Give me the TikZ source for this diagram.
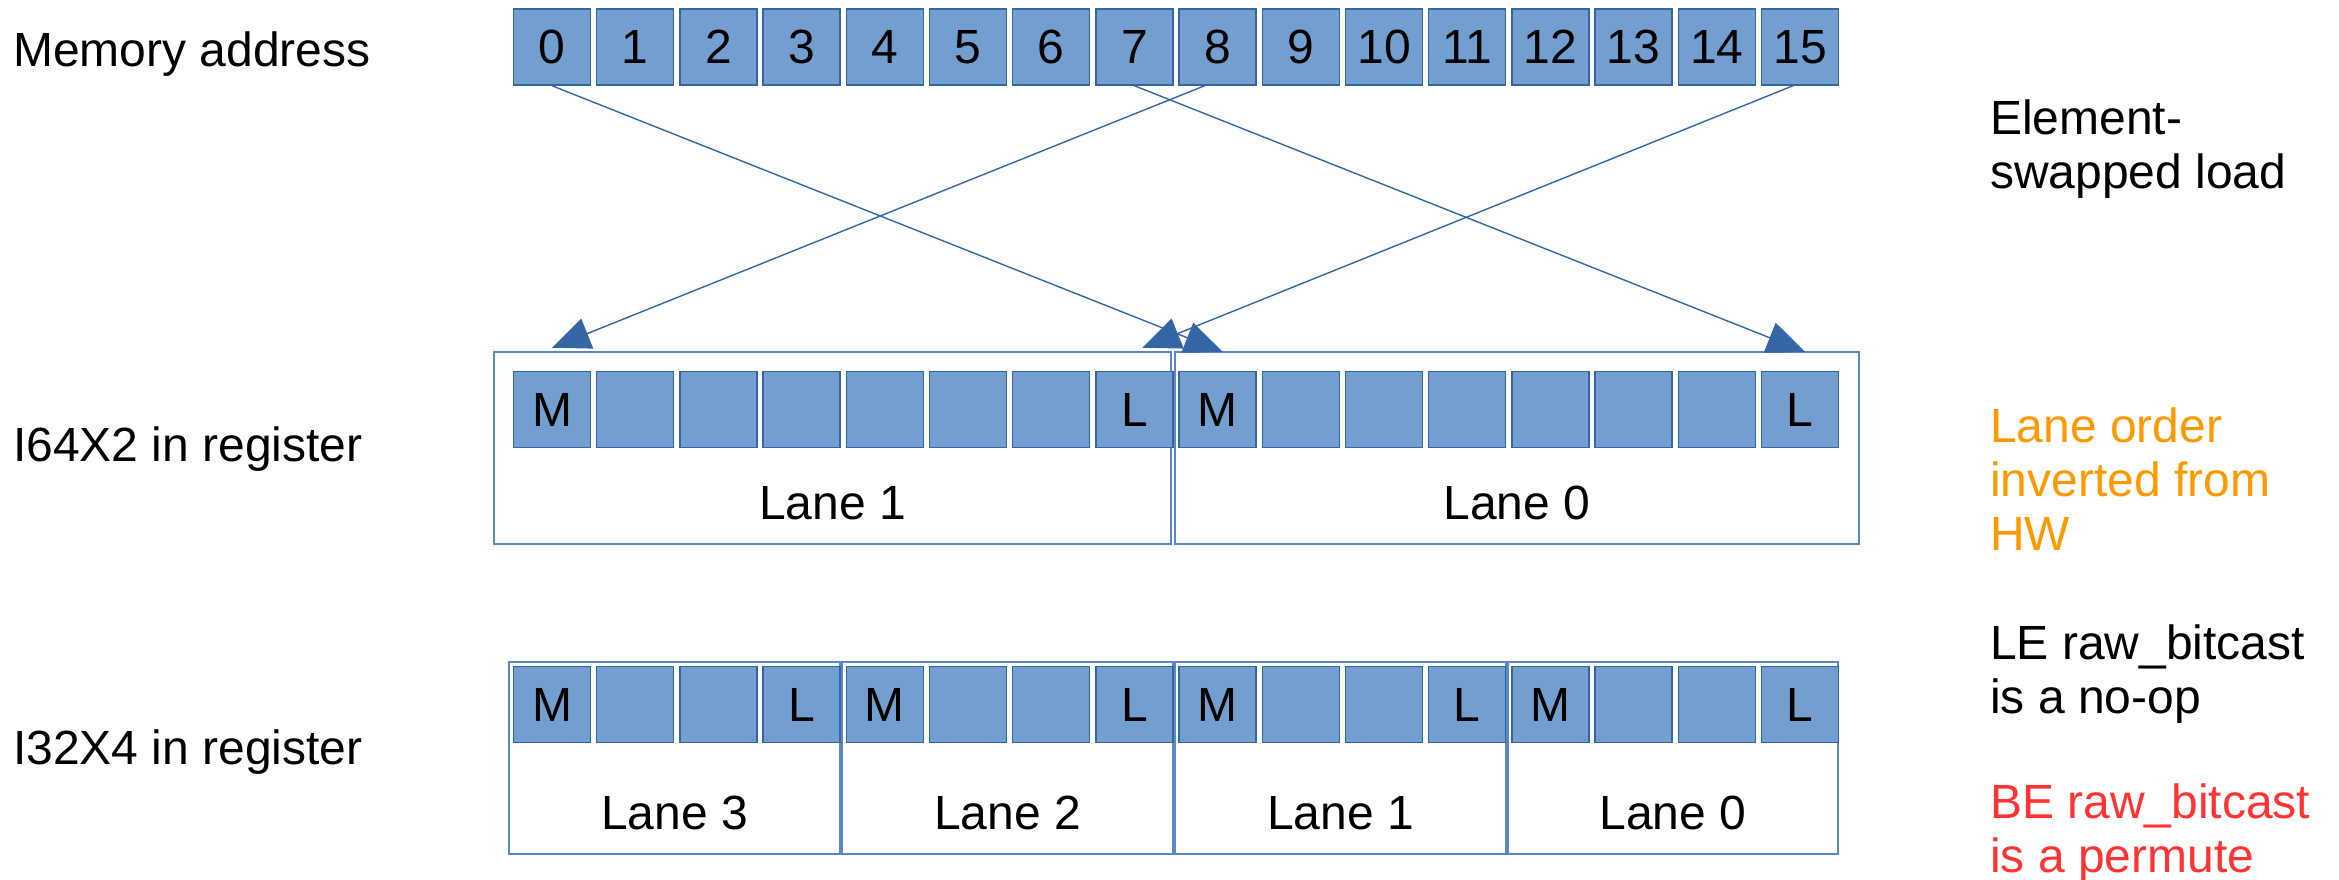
\documentclass[tikz,border=0pt]{standalone}
\usepackage{fontspec}
\setmainfont{Liberation Sans}
\usetikzlibrary{arrows.meta}
\definecolor{cellfill}{HTML}{729FCF}
\definecolor{celldraw}{HTML}{3465A4}
\definecolor{boxdraw}{HTML}{5A88C4}
\definecolor{txtorange}{HTML}{FF9900}
\definecolor{txtred}{HTML}{FF3333}
\begin{document}
\begin{tikzpicture}[x=1pt,y=-1pt,
  font=\fontsize{48}{54}\selectfont,
  cell/.style={draw=celldraw, fill=cellfill, line width=1.5pt, minimum width=77pt,
    minimum height=76pt, inner sep=0pt, text height=34pt, text depth=0pt},
  lanebox/.style={draw=boxdraw, line width=1.3pt, inner sep=0pt},
  lanelbl/.style={anchor=base, inner sep=0pt},
  lbl/.style={anchor=base west, inner sep=0pt, align=left},
  conn/.style={draw=celldraw, line width=1.4pt, -{Triangle[length=38pt,width=32pt]}},
]
\useasboundingbox (0,0) rectangle (2339,880);

% left labels
\node[lbl] (tmem) at (13,67) {Memory address};
\node[lbl] (t64) at (13,461) {I64X2 in register};
\node[lbl] (t32) at (13,764) {I32X4 in register};

% right notes (base = baseline of last line)
\node[lbl] (n1) at (1990,188) {Element-\\swapped load};
\node[lbl, text=txtorange] (n2) at (1990,550) {Lane order\\inverted from\\HW};
\node[lbl] (n3) at (1990,713) {LE raw\_bitcast\\is a no-op};
\node[lbl, text=txtred] (n4) at (1990,872) {BE raw\_bitcast\\is a permute};

% lane boxes I64X2
\node[lanebox, minimum width=677pt, minimum height=192pt] (qa) at (832.5,448) {};
\node[lanebox, minimum width=684pt, minimum height=192pt] (qb) at (1517,448) {};
\node[lanelbl] (qal) at ([yshift=-71pt]qa.center) {Lane 1};
\node[lanelbl] (qbl) at ([yshift=-71pt]qb.center) {Lane 0};

% lane boxes I32X4
\node[lanebox, minimum width=331pt, minimum height=192pt] (wa) at (674.5,758) {};
\node[lanebox, minimum width=331pt, minimum height=192pt] (wb) at (1007.5,758) {};
\node[lanebox, minimum width=331pt, minimum height=192pt] (wc) at (1340.5,758) {};
\node[lanebox, minimum width=330pt, minimum height=192pt] (wd) at (1673,758) {};
\node[lanelbl] (wal) at ([yshift=-71pt]wa.center) {Lane 3};
\node[lanelbl] (wbl) at ([yshift=-71pt]wb.center) {Lane 2};
\node[lanelbl] (wcl) at ([yshift=-71pt]wc.center) {Lane 1};
\node[lanelbl] (wdl) at ([yshift=-71pt]wd.center) {Lane 0};

% memory cells
\foreach \i in {0,...,15}
  \node[cell] (m\i) at ({552+83.2*\i},47) {\i};

% I64X2 cells
\foreach \i/\t in {0/M,1/,2/,3/,4/,5/,6/,7/L,8/M,9/,10/,11/,12/,13/,14/,15/L}
  \node[cell] (r\i) at ({552+83.2*\i},409.5) {\t};

% I32X4 cells
\foreach \i/\t in {0/M,1/,2/,3/L,4/M,5/,6/,7/L,8/M,9/,10/,11/L,12/M,13/,14/,15/L}
  \node[cell] (s\i) at ({552+83.2*\i},704.5) {\t};

% connectors
\draw[conn] (m0.south) -- ([xshift=5pt,yshift=19pt]r8.north);
\draw[conn] (m7.south) -- ([xshift=5pt,yshift=19pt]r15.north);
\draw[conn] ([xshift=-13pt]m8.south) -- ([yshift=23pt]r0.north);
\draw[conn] ([xshift=-7pt]m15.south) -- ([xshift=8pt,yshift=23pt]r7.north);
\end{tikzpicture}
\end{document}
